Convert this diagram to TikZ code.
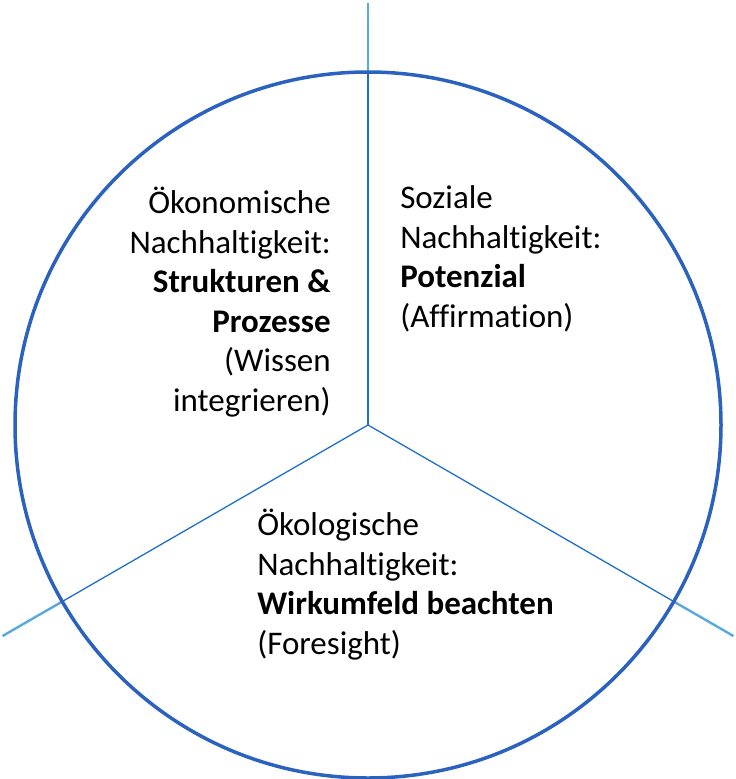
\documentclass[tikz,border=0pt]{standalone}
\usepackage{fontspec}
\setmainfont{Carlito}[Ligatures=NoCommon]
\usepackage{tikz}
\usetikzlibrary{positioning,calc}

\definecolor{ringblue}{HTML}{2B62BF}
\definecolor{spokeblue}{HTML}{1F6FCC}
\definecolor{tipblue}{HTML}{5AA8E2}

\begin{document}
\begin{tikzpicture}[x=1pt,y=-1pt,semithick,
      ring/.style={draw=ringblue,line width=3.5pt},
      spoke/.style={draw=spokeblue,line width=1.3pt},
      tip/.style={draw=tipblue,line width=2.4pt},
      txt/.style={inner sep=0pt,font=\fontsize{33}{39.5}\selectfont}]
			\useasboundingbox (0,0) rectangle (736,779);
			\coordinate (mid) at (368,425);
			\foreach \a/\n in {270/1,150/2,30/3}{
				\coordinate (c\n) at ($(mid)+(\a:353)$);
				\coordinate (e\n) at ($(mid)+(\a:422)$);
			}
			\path[tip] (c1) edge (e1) (c2) edge (e2) (c3) edge (e3);
			\path[spoke] (mid) edge (c1) (mid) edge (c2) (mid) edge (c3);
			\draw[ring] (mid) circle (353);
			% anchor at baseline of last line
			\node[txt,anchor=base east,align=right] (oekon) at (331,411)
				{Ökonomische\\Nachhaltigkeit:\\\textbf{Strukturen \&}\\\textbf{Prozesse}\\(Wissen\\integrieren)};
			\node[txt,anchor=base west,align=left] (sozial) at (400,327)
				{Soziale\\Nachhaltigkeit:\\\textbf{Potenzial}\\(Affirmation)};
			\node[txt,anchor=base west,align=left] (oekol) at (257,654)
				{Ökologische\\Nachhaltigkeit:\\\textbf{Wirkumfeld beachten}\\(Foresight)};
		\end{tikzpicture}
\end{document}
